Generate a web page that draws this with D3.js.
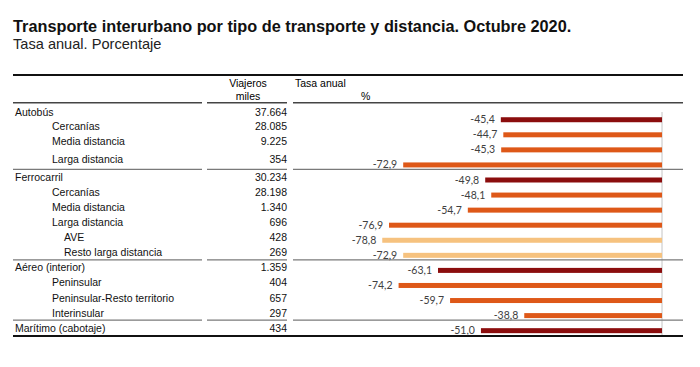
<!DOCTYPE html>
<html><head><meta charset="utf-8">
<script src="https://cdn.jsdelivr.net/npm/d3@7"></script>
<style>
body{margin:0;background:#fff;}
svg{display:block;}
</style></head>
<body>
<script>
const title = "Transporte interurbano por tipo de transporte y distancia. Octubre 2020.";
const subtitle = "Tasa anual. Porcentaje";
const categories = ["Autobús","Cercanías","Media distancia","Larga distancia",
  "Ferrocarril","Cercanías","Media distancia","Larga distancia","AVE","Resto larga distancia",
  "Aéreo (interior)","Peninsular","Peninsular-Resto territorio","Interinsular",
  "Marítimo (cabotaje)"];
const levels = [0,1,1,1, 0,1,1,1,2,2, 0,1,1,1, 0];
const viajeros = ["37.664","28.085","9.225","354","30.234","28.198","1.340","696","428","269","1.359","404","657","297","434"];
const tasa = [-45.4,-44.7,-45.3,-72.9,-49.8,-48.1,-54.7,-76.9,-78.8,-72.9,-63.1,-74.2,-59.7,-38.8,-51.0];
const groupStarts = [4,10,14];

// layout constants
const levelColors = ["#8b0d0d","#de5818","#f6c27f"];
const levelIndent = [15,52,64];
const rowTextNudge = [-5,-5.5,-5.5,-3, 0,0,0,0,0,0, 0,0,0,0, 0];

const W=700,H=367;
const svg=d3.select("body").append("svg").attr("width",W).attr("height",H);
const ff="'Liberation Sans', Arial, sans-serif";

svg.append("text").attr("x",13).attr("y",31.5).attr("font-family",ff).attr("font-weight","bold")
  .attr("font-size",16.3).attr("fill","#111").text(title);
svg.append("text").attr("x",13).attr("y",48.5).attr("font-family",ff)
  .attr("font-size",14.6).attr("fill","#222").text(subtitle);

const y=d3.scaleBand().domain(d3.range(categories.length)).range([112.2,338.2]);
const x=d3.scaleLinear().domain([-100,0]).range([307,662]);

// lines
svg.append("line").attr("x1",13).attr("x2",683).attr("y1",75).attr("y2",75).attr("stroke","#111").attr("stroke-width",2);
[[13,202],[207,287],[293,683]].forEach(([a,b])=>{
  svg.append("line").attr("x1",a).attr("x2",b).attr("y1",102.8).attr("y2",102.8).attr("stroke","#444").attr("stroke-width",1.5);
});
const fs=10.5;
svg.append("text").attr("x",248).attr("y",86.5).attr("text-anchor","middle").attr("font-family",ff).attr("font-size",fs).text("Viajeros");
svg.append("text").attr("x",248).attr("y",100).attr("text-anchor","middle").attr("font-family",ff).attr("font-size",fs).text("miles");
svg.append("text").attr("x",295).attr("y",86.5).attr("font-family",ff).attr("font-size",fs).text("Tasa anual");
svg.append("text").attr("x",361).attr("y",99.5).attr("font-family",ff).attr("font-size",fs).text("%");

// zero axis
svg.append("line").attr("x1",x(0)).attr("x2",x(0)).attr("y1",112).attr("y2",337).attr("stroke","#c4c4c4").attr("stroke-width",1);

// bars
const rows=d3.range(categories.length);
svg.selectAll("rect.bar").data(rows).join("rect").attr("class","bar")
  .attr("x",i=>x(tasa[i])).attr("width",i=>x(0)-x(tasa[i]))
  .attr("y",i=>y(i)+y.bandwidth()/2-2.5).attr("height",5)
  .attr("fill",i=>levelColors[levels[i]]);

// group separator lines
groupStarts.forEach(g=>{
  [[13,202],[207,287],[293,683]].forEach(([a,b])=>{
    svg.append("line").attr("x1",a).attr("x2",b).attr("y1",y(g)-3).attr("y2",y(g)-3).attr("stroke","#7a7a7a").attr("stroke-width",1.3);
  });
});
svg.append("line").attr("x1",13).attr("x2",683).attr("y1",336).attr("y2",336).attr("stroke","#111").attr("stroke-width",2);

// labels
const ty=i=>y(i)+y.bandwidth()/2+1+rowTextNudge[i];
svg.selectAll("text.cat").data(rows).join("text").attr("class","cat")
  .attr("x",i=>levelIndent[levels[i]]).attr("y",ty)
  .attr("font-family",ff).attr("font-size",fs).attr("fill","#111").text(i=>categories[i]);
svg.selectAll("text.via").data(rows).join("text").attr("class","via")
  .attr("x",287).attr("y",ty).attr("text-anchor","end")
  .attr("font-family",ff).attr("font-size",fs).attr("fill","#111").text(i=>viajeros[i]);
svg.selectAll("text.val").data(rows).join("text").attr("class","val")
  .attr("x",i=>x(tasa[i])-6).attr("y",i=>y(i)+y.bandwidth()/2+3.5).attr("text-anchor","end")
  .attr("font-family","Lato, 'Open Sans', sans-serif").attr("font-size",10.5).attr("fill","#404040")
  .text(i=>d3.format(".1f")(tasa[i]).replace(".",",").replace("−","-"));
</script>
</body></html>
